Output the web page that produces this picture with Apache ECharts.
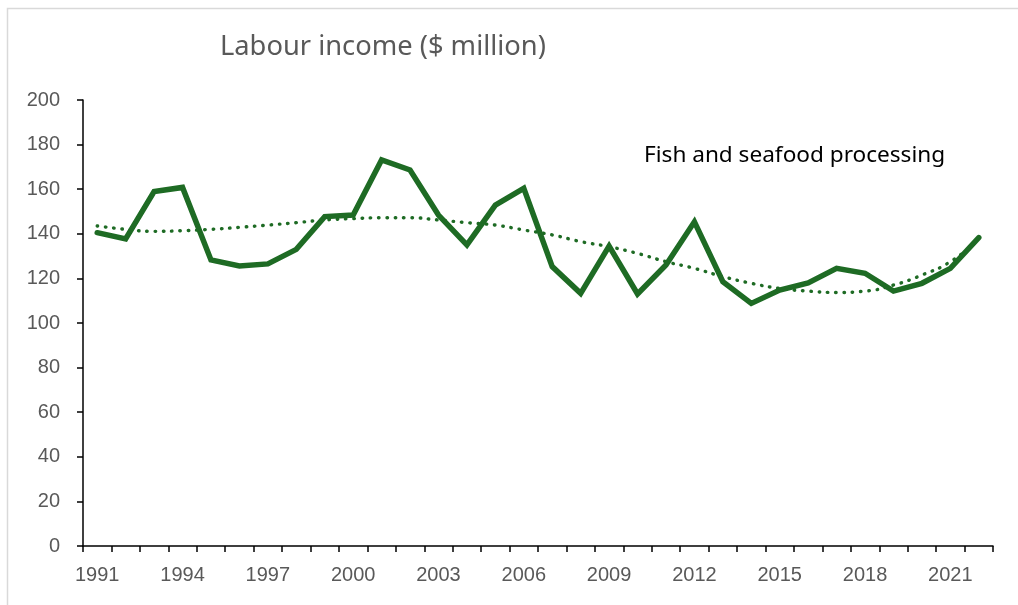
<!DOCTYPE html>
<html>
<head>
<meta charset="utf-8">
<title>Labour income – Fish and seafood processing</title>
<script src="https://cdn.jsdelivr.net/npm/echarts@6/dist/echarts.min.js"></script>
<style>
  html, body { margin: 0; padding: 0; background: #fff; }
  #chart { width: 1018px; height: 605px; }
</style>
</head>
<body>
<div id="chart"></div>
<script>
// Years on the category axis
const years = [
  '1991','1992','1993','1994','1995','1996','1997','1998','1999','2000',
  '2001','2002','2003','2004','2005','2006','2007','2008','2009','2010',
  '2011','2012','2013','2014','2015','2016','2017','2018','2019','2020',
  '2021','2022'
];

// Labour income, $ million
const labourIncome = [
  140.5, 137.7, 158.9, 160.8, 128.3, 125.6, 126.5, 133.0, 147.7, 148.4,
  173.1, 168.6, 148.4, 135.0, 152.9, 160.4, 125.3, 113.3, 134.5, 113.0,
  126.0, 145.4, 118.5, 108.8, 114.8, 118.0, 124.5, 122.3, 114.3, 117.8,
  124.5, 138.3
];

// Smoothed trend of the same series (dotted line)
const trendValues = [
  143.5, 142.0, 141.1, 141.4, 142.0, 142.9, 143.9, 145.0, 146.2, 146.8,
  147.2, 147.2, 146.2, 145.0, 143.9, 141.7, 139.5, 136.5, 134.2, 131.2,
  127.5, 124.5, 120.8, 117.8, 115.5, 114.3, 113.7, 114.3, 117.0, 121.5,
  127.5, 137.5
];

// Value axis settings
const yMin = 0, yMax = 200, yStep = 20;

const green = '#1e6b24';
const labelGrey = '#595959';

const chart = echarts.init(document.getElementById('chart'), null, { renderer: 'canvas' });

chart.setOption({
  animation: false,
  backgroundColor: '#fff',
  grid: { left: 83, right: 25, top: 100, bottom: 59, containLabel: false },
  graphic: [
    {
      type: 'rect',
      silent: true,
      shape: { x: 7.5, y: 8.5, width: 1040, height: 640 },
      style: { fill: 'none', stroke: '#d9d9d9', lineWidth: 1.5 }
    },
    {
      type: 'text',
      left: 220,
      top: 34,
      style: {
        text: 'Labour income ($ million)',
        fontFamily: 'Noto Sans',
        fontSize: 27.3,
        fill: labelGrey
      }
    },
    {
      type: 'text',
      left: 644,
      top: 144,
      style: {
        text: 'Fish and seafood processing',
        fontFamily: 'Noto Sans',
        fontSize: 22.6,
        fill: '#000'
      }
    }
  ],
  xAxis: {
    type: 'category',
    data: years,
    boundaryGap: true,
    axisLine: { lineStyle: { color: '#000', width: 1.5 } },
    axisTick: { show: true, interval: 0, length: 6, lineStyle: { color: '#000', width: 1.5 } },
    axisLabel: {
      interval: 2,
      margin: 19,
      color: labelGrey,
      fontFamily: 'Liberation Sans',
      fontSize: 20
    },
    splitLine: { show: false }
  },
  yAxis: {
    type: 'value',
    min: yMin,
    max: yMax,
    interval: yStep,
    axisLine: { show: true, lineStyle: { color: '#000', width: 1.5 } },
    axisTick: { show: true, length: 6, lineStyle: { color: '#000', width: 1.5 } },
    axisLabel: {
      margin: 23,
      color: labelGrey,
      fontFamily: 'Liberation Sans',
      fontSize: 20
    },
    splitLine: { show: false }
  },
  series: [
    {
      name: 'Trend',
      type: 'line',
      data: trendValues,
      smooth: true,
      symbol: 'none',
      z: 2,
      lineStyle: {
        color: green,
        width: 3.4,
        type: [0.5, 7.8],
        cap: 'round'
      }
    },
    {
      name: 'Fish and seafood processing',
      type: 'line',
      data: labourIncome,
      symbol: 'none',
      z: 3,
      lineStyle: { color: green, width: 5.5, join: 'miter', cap: 'round' }
    }
  ]
});
</script>
</body>
</html>
